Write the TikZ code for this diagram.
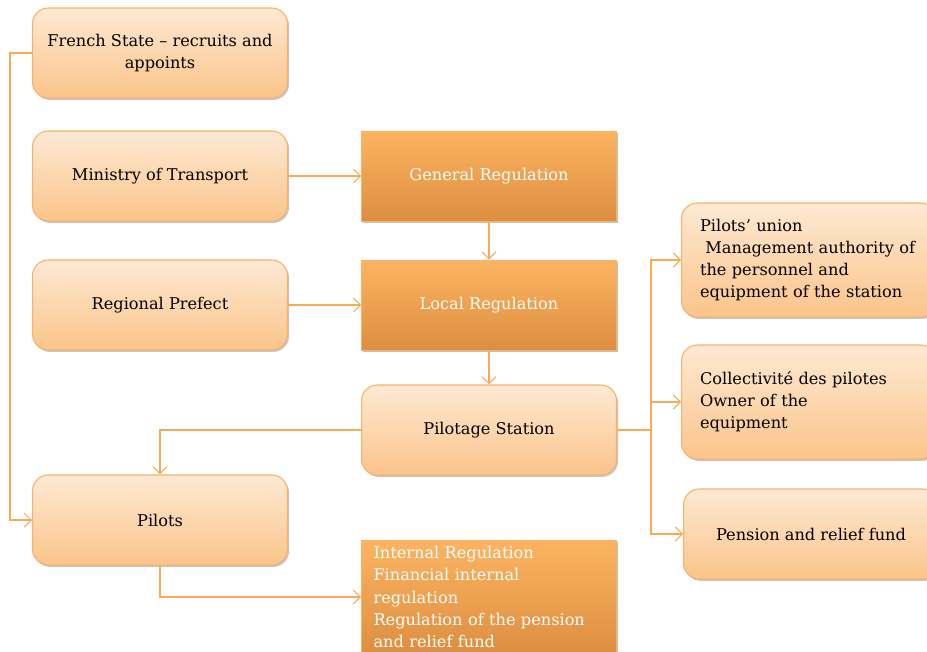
\documentclass[tikz,border=0pt]{standalone}
\usepackage{fontspec}
\setmainfont{DejaVu Serif}
\usetikzlibrary{arrows.meta,shadows}
\definecolor{lighttop}{HTML}{FDE9D3}
\definecolor{lightbot}{HTML}{FBC48A}
\definecolor{darktop}{HTML}{FCB462}
\definecolor{darkbot}{HTML}{DD8E40}
\definecolor{edge}{HTML}{F9B068}
\definecolor{linkc}{HTML}{F8AA55}
\tikzset{
  lbox/.style={draw=edge,line width=0.6pt,rounded corners=9pt,top color=lighttop,bottom color=lightbot,
    minimum width=5.1cm,minimum height=1.8cm,align=center,text=black,
    drop shadow={opacity=0.45,shadow xshift=0.9pt,shadow yshift=-1.1pt}},
  dbox/.style={draw=darktop,line width=0.4pt,top color=darktop,bottom color=darkbot,
    minimum width=5.1cm,minimum height=1.8cm,align=center,text=white,
    drop shadow={opacity=0.5,shadow xshift=0.9pt,shadow yshift=-1.1pt}},
  link/.style={draw=linkc,line width=0.6pt},
}
\begin{document}
\begin{tikzpicture}[x=0.02cm,y=-0.02cm,>={Straight Barb[length=4pt,width=8pt]},
  font=\fontsize{9.2}{12.6}\selectfont]
 \useasboundingbox (0,0) rectangle (927,652);
 % left column
 \node[lbox] (state) at (160,53) {French State -- recruits and\\appoints};
 \node[lbox] (ministry) at (160,176) {Ministry of Transport};
 \node[lbox] (prefect) at (160,305) {Regional Prefect};
 \node[lbox] (pilots) at (160,520) {Pilots};
 % middle column
 \node[dbox] (general) at (489,176) {General Regulation};
 \node[dbox] (local) at (489,305) {Local Regulation};
 \node[lbox] (station) at (489,430) {Pilotage Station};
 \node[dbox,minimum height=2.28cm,text width=4.62cm,align=left,inner xsep=0.2cm] (internal) at (489,597)
   {Internal Regulation\\Financial internal\\regulation\\Regulation of the pension\\and relief fund};
 % right column, cut by the page edge
 \node[lbox,minimum height=2.28cm,text width=4.36cm,align=left,inner xsep=0.32cm] (union) at (809,260)
   {Pilots' union\\\ Management authority of\\the personnel and\\equipment of the station};
 \node[lbox,minimum height=2.28cm,text width=4.36cm,align=left,inner xsep=0.32cm] (collect) at (809,402)
   {Collectivité des pilotes\\Owner of the\\equipment};
 \node[lbox] (fund) at (811,534) {Pension and relief fund};
 % connectors
 \draw[link,->] (state.west) -- ++(-22,0) |- (pilots.west);
 \draw[link,->] (ministry) -- (general);
 \draw[link,->] (prefect) -- (local);
 \draw[link,->] (general) -- (local);
 \draw[link,->] (local) -- (station);
 \draw[link,->] (station.west) -| (pilots.north);
 \draw[link] (station.east) -- ++(34,0) coordinate (fork);
 \draw[link,->] (fork) |- (union.west);
 \draw[link,->] (fork) |- (collect.west);
 \draw[link,->] (fork) |- (fund.west);
 \draw[link,->] (pilots.south) |- (internal.west);
\end{tikzpicture}
\end{document}
